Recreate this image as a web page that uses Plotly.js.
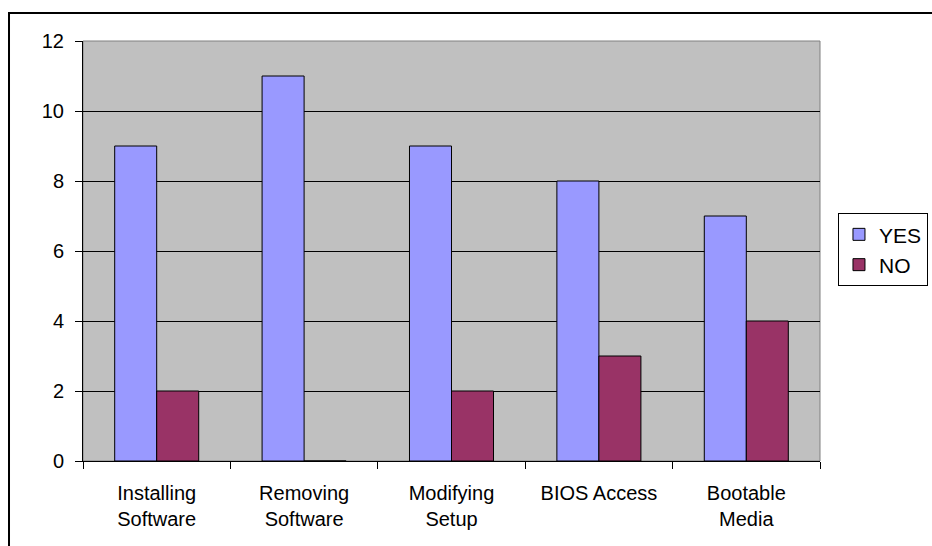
<!DOCTYPE html>
<html>
<head>
<meta charset="utf-8">
<script src="https://cdn.plot.ly/plotly-3.0.1.min.js"></script>
<style>html,body{margin:0;padding:0;background:#fff;}#chart{width:932px;height:546px;}</style>
</head>
<body>
<div id="chart"></div>
<script>
const categories = ["Installing<br>Software", "Removing<br>Software", "Modifying<br>Setup", "BIOS Access", "Bootable<br>Media"];
const yesValues = [9, 11, 9, 8, 7];
const noValues = [2, 0, 2, 3, 4];
const yTicks = [0, 2, 4, 6, 8, 10, 12];

const font = {family: "Liberation Sans, Arial, sans-serif", color: "#000"};

const traces = [
  {type: "bar", name: "YES", x: categories, y: yesValues, legendgroup: "a",
   marker: {color: "#9999FF", line: {color: "#000", width: 1}}, hoverinfo: "none"},
  {type: "bar", name: "NO", x: categories, y: noValues, legendgroup: "b",
   marker: {color: "#993366", line: {color: "#000", width: 1}}, hoverinfo: "none"}
];

const layout = {
  width: 932, height: 546,
  margin: {l: 83, r: 112, t: 41, b: 85, pad: 0, autoexpand: false},
  paper_bgcolor: "#fff",
  plot_bgcolor: "#C0C0C0",
  barmode: "group",
  bargap: 0.43,
  bargroupgap: 0,
  font: Object.assign({size: 20}, font),
  showlegend: true,
  legend: {
    x: 1.0244, y: 0.59, xanchor: "left", yanchor: "top",
    bgcolor: "#fff", bordercolor: "#000", borderwidth: 1,
    font: Object.assign({size: 21}, font),
    tracegroupgap: 9,
    traceorder: "normal"
  },
  xaxis: {
    type: "category",
    showline: true, linecolor: "#000", linewidth: 1,
    ticks: "outside", tickson: "boundaries", ticklen: 7, tickcolor: "#000", tickwidth: 1,
    showgrid: false, zeroline: false,
    tickfont: Object.assign({size: 20}, font),
    ticklabelstandoff: 14,
    fixedrange: true
  },
  yaxis: {
    range: [0, 12],
    tickvals: yTicks, ticktext: yTicks.map(String),
    showline: true, linecolor: "#000", linewidth: 1,
    ticks: "outside", ticklen: 7, tickcolor: "#000", tickwidth: 1,
    showgrid: true, gridcolor: "#000", gridwidth: 1,
    zeroline: false,
    tickfont: Object.assign({size: 20}, font),
    ticklabelstandoff: 7,
    fixedrange: true
  },
  shapes: [
    {type: "rect", xref: "paper", yref: "paper", x0: 0, x1: 1, y0: 0, y1: 1,
     line: {color: "#808080", width: 1}, layer: "below"},
    {type: "rect", xref: "paper", yref: "paper", x0: -0.1004, x1: 1.2, y0: -0.3, y1: 1.0667,
     line: {color: "#000", width: 2}, fillcolor: "rgba(0,0,0,0)", layer: "below"}
  ]
};

Plotly.newPlot("chart", traces, layout, {displayModeBar: false, staticPlot: true});
</script>
</body>
</html>
